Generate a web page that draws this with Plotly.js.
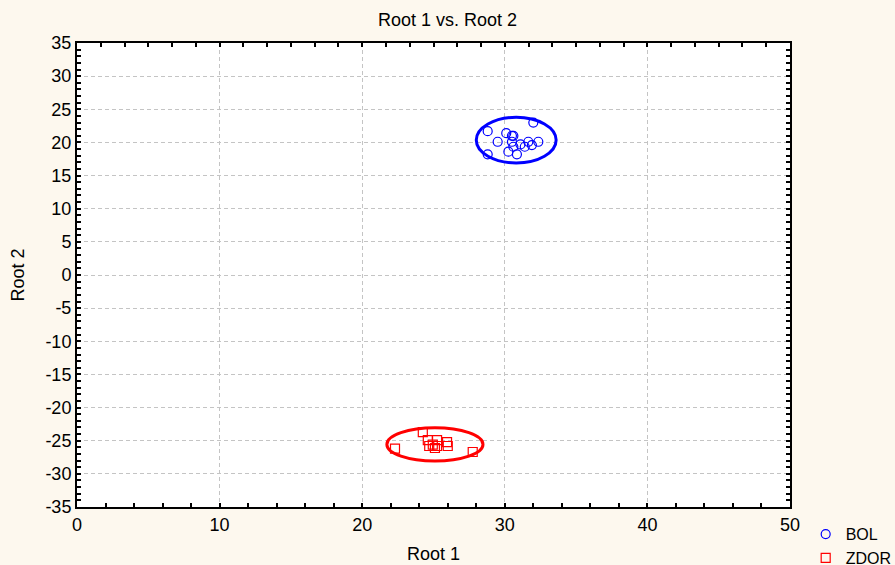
<!DOCTYPE html>
<html>
<head>
<meta charset="utf-8">
<script src="https://cdn.plot.ly/plotly-3.0.1.min.js"></script>
<style>html,body{margin:0;padding:0;background:#fdf8ee;}</style>
</head>
<body>
<div id="chart" style="width:895px;height:565px;"></div>
<script>
// Group BOL (blue circles)
var bolRoot1 = [28.8, 28.8, 30.1, 30.5, 30.6, 29.5, 31.1, 31.65, 32.35, 31.9, 31.4, 30.6, 30.25, 30.85, 32.0, 30.5];
var bolRoot2 = [21.7, 18.2, 21.4, 21.0, 21.0, 20.1, 19.7, 20.1, 20.1, 19.6, 19.35, 19.35, 18.6, 18.2, 23.0, 20.1];
// Group ZDOR (red squares)
var zdorRoot1 = [24.25, 22.3, 27.75, 24.6, 25.25, 25.95, 24.7, 25.25, 26.0, 24.95, 25.1];
var zdorRoot2 = [-23.7, -26.2, -26.7, -24.9, -24.9, -25.2, -25.8, -25.8, -25.8, -25.6, -26.1];
// Ellipses: [centerX, centerY, radiusX, radiusY]
var bolEllipse = [30.8, 20.35, 2.8, 3.45];
var zdorEllipse = [25.1, -25.56, 3.37, 2.5];
var groupNames = ['BOL', 'ZDOR'];
var groupColors = ['#0000ff', '#ff0000'];
// Tick labels
var xTickVals = [0, 10, 20, 30, 40, 50];
var xTickText = ['0', '10', '20', '30', '40', '50'];
var yTickVals = [35, 30, 25, 20, 15, 10, 5, 0, -5, -10, -15, -20, -25, -30, -35];
var yTickText = ['35', '30', '25', '20', '15', '10', '5', '0', '-5', '-10', '-15', '-20', '-25', '-30', '-35'];

var FONT = 'Liberation Sans, Arial, sans-serif';

function ellipseShape(e, color) {
  return {type: 'circle', xref: 'x', yref: 'y',
    x0: e[0] - e[2], x1: e[0] + e[2], y0: e[1] - e[3], y1: e[1] + e[3],
    line: {color: color, width: 3}, layer: 'above'};
}

var traces = [
  {x: bolRoot1, y: bolRoot2, type: 'scatter', mode: 'markers', name: groupNames[0],
   marker: {symbol: 'circle-open', size: 9, color: groupColors[0], line: {width: 1.2}}},
  {x: zdorRoot1, y: zdorRoot2, type: 'scatter', mode: 'markers', name: groupNames[1],
   marker: {symbol: 'square-open', size: 9, color: groupColors[1], line: {width: 1.2}}},
  {x: [], y: [], type: 'scatter', mode: 'markers', xaxis: 'x2', yaxis: 'y', showlegend: false, hoverinfo: 'skip'}
];

var gridCommon = {showgrid: true, gridcolor: '#c4c4c4', griddash: '4px,3px', gridwidth: 1, zeroline: false};

var layout = {
  width: 895, height: 565,
  paper_bgcolor: '#fdf8ee', plot_bgcolor: '#ffffff',
  margin: {l: 77, r: 105, t: 43, b: 58, autoexpand: false},
  title: {text: 'Root 1 vs. Root 2', x: 0.5, xanchor: 'center', y: 0.965, yanchor: 'middle',
          font: {family: FONT, size: 18, color: '#000'}},
  xaxis: Object.assign({}, gridCommon, {
    range: [0, 50], tickvals: xTickVals, ticktext: xTickText,
    showline: true, linecolor: '#000', linewidth: 2, mirror: false,
    ticks: 'inside', ticklen: 4, tickwidth: 2, tickcolor: '#000',
    tickfont: {family: FONT, size: 18, color: '#000'},
    minor: {dtick: 2, tick0: 0, ticks: 'inside', ticklen: 4, tickwidth: 2, tickcolor: '#000', showgrid: false},
    title: {text: 'Root 1', standoff: 14, font: {family: FONT, size: 18, color: '#000'}}
  }),
  xaxis2: {
    overlaying: 'x', side: 'top', anchor: 'y', range: [0, 50],
    showline: true, linecolor: '#000', linewidth: 2,
    ticks: 'inside', dtick: 10 / 6, tick0: 0, ticklen: 4, tickwidth: 2, tickcolor: '#000',
    showticklabels: false, showgrid: false, zeroline: false
  },
  yaxis: Object.assign({}, gridCommon, {
    range: [-35, 35], tickvals: yTickVals, ticktext: yTickText,
    showline: true, linecolor: '#000', linewidth: 2, mirror: 'allticks',
    ticks: 'inside', ticklen: 4, tickwidth: 2, tickcolor: '#000',
    tickfont: {family: FONT, size: 18, color: '#000'},
    minor: {dtick: 1, tick0: 0, ticks: 'inside', ticklen: 4, tickwidth: 2, tickcolor: '#000', showgrid: false},
    title: {text: 'Root 2', standoff: 16, font: {family: FONT, size: 18, color: '#000'}}
  }),
  shapes: [ellipseShape(bolEllipse, groupColors[0]), ellipseShape(zdorEllipse, groupColors[1])],
  showlegend: true,
  legend: {x: 1.022, xanchor: 'left', y: -0.022, yanchor: 'top', bgcolor: 'rgba(0,0,0,0)',
           font: {family: FONT, size: 16, color: '#000'},
           tracegroupgap: 0, itemwidth: 30}
};

Plotly.newPlot('chart', traces, layout, {displayModeBar: false, staticPlot: true});
</script>
</body>
</html>
